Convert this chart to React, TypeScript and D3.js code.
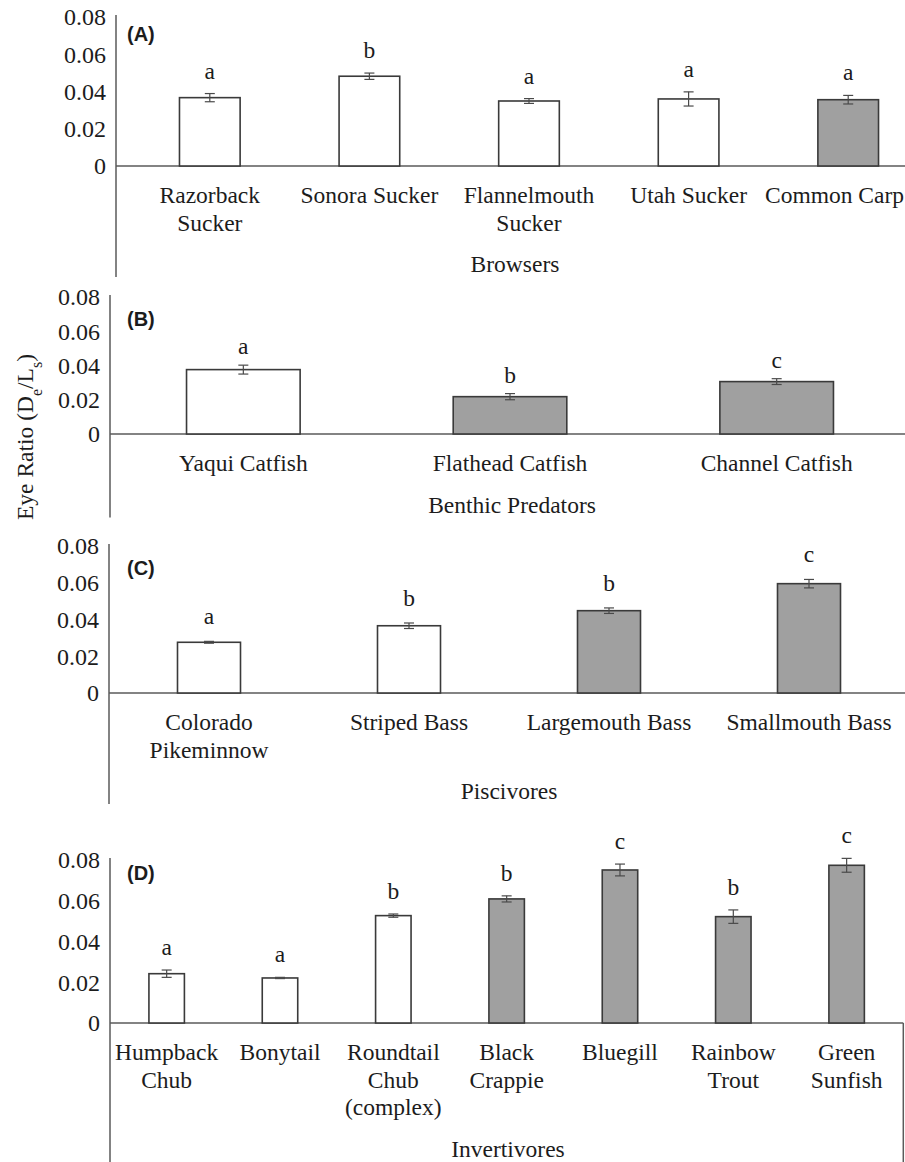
import React from 'react';
import * as d3 from 'd3';

// eye ratio (De/Ls), mean and SE
const browsersSpecies = [['Razorback', 'Sucker'], ['Sonora Sucker'], ['Flannelmouth', 'Sucker'], ['Utah Sucker'], ['Common Carp']];
const browsersMean = [0.0367, 0.0482, 0.0349, 0.036, 0.0356];
const browsersSE = [0.0022, 0.0017, 0.0013, 0.0038, 0.0023];
const browsersLetters = ['a', 'b', 'a', 'a', 'a'];
const browsersNonNative = [false, false, false, false, true];

const benthicSpecies = [['Yaqui Catfish'], ['Flathead Catfish'], ['Channel Catfish']];
const benthicMean = [0.0376, 0.0218, 0.0306];
const benthicSE = [0.0026, 0.0018, 0.0017];
const benthicLetters = ['a', 'b', 'c'];
const benthicNonNative = [false, true, true];

const piscSpecies = [['Colorado', 'Pikeminnow'], ['Striped Bass'], ['Largemouth Bass'], ['Smallmouth Bass']];
const piscMean = [0.0276, 0.0366, 0.0448, 0.0595];
const piscSE = [0.0005, 0.0015, 0.0015, 0.0023];
const piscLetters = ['a', 'b', 'b', 'c'];
const piscNonNative = [false, false, true, true];

const invSpecies = [['Humpback', 'Chub'], ['Bonytail'], ['Roundtail', 'Chub', '(complex)'], ['Black', 'Crappie'], ['Bluegill'], ['Rainbow', 'Trout'], ['Green', 'Sunfish']];
const invMean = [0.0242, 0.0221, 0.0527, 0.0609, 0.0751, 0.0522, 0.0774];
const invSE = [0.0018, 0.0003, 0.0008, 0.0015, 0.0029, 0.0033, 0.0034];
const invLetters = ['a', 'a', 'b', 'b', 'c', 'b', 'c'];
const invNonNative = [false, false, false, true, true, true, true];

const yTicks = [0, 0.02, 0.04, 0.06, 0.08];

const W = 905;
const H = 1162;
const serif = 'Liberation Serif, Tinos, Times New Roman, DejaVu Serif, serif';
const sans = 'Liberation Sans, Arimo, Arial, sans-serif';
const FS = 23.5;
const LH = 27.5;
const ink = '#1c1c1c';
const axisCol = '#5a5a5a';

const panels = [
  { tag: '(A)', group: 'Browsers', species: browsersSpecies, mean: browsersMean, se: browsersSE, letters: browsersLetters, nonNative: browsersNonNative,
    axisX: 116, x0: 130, x1: 928, yTop: 17, yZero: 166, pad: 0.62, gap: 15, tagY: 41, titleX: 515 },
  { tag: '(B)', group: 'Benthic Predators', species: benthicSpecies, mean: benthicMean, se: benthicSE, letters: benthicLetters, nonNative: benthicNonNative,
    axisX: 110, x0: 110, x1: 910, yTop: 297, yZero: 434, pad: 0.574, gap: 11, tagY: 326, titleX: 512 },
  { tag: '(C)', group: 'Piscivores', species: piscSpecies, mean: piscMean, se: piscSE, letters: piscLetters, nonNative: piscNonNative,
    axisX: 109, x0: 109, x1: 909, yTop: 546, yZero: 693, pad: 0.685, gap: 17, tagY: 575, titleX: 509 },
  { tag: '(D)', group: 'Invertivores', species: invSpecies, mean: invMean, se: invSE, letters: invLetters, nonNative: invNonNative,
    axisX: 110, x0: 110, x1: 903.3, yTop: 860, yZero: 1023, pad: 0.687, gap: 15, tagY: 880, titleX: 508, boxed: true },
];

let ctx = null;
function textWidth(s) {
  if (!ctx) ctx = document.createElement('canvas').getContext('2d');
  ctx.font = `${FS}px ${serif}`;
  return ctx.measureText(s).width;
}

function Panel({ p }) {
  const x = d3.scaleBand().domain(d3.range(p.species.length)).range([p.x0, p.x1])
    .paddingInner(p.pad).paddingOuter(p.pad / 2);
  const y = d3.scaleLinear().domain([0, 0.08]).range([p.yZero, p.yTop]);
  const nLines = d3.max(p.species, (s) => s.length);
  const titleY = p.yZero + 44 + nLines * LH;
  const axisBottom = p.boxed ? H : titleY + 12;
  const xEnd = p.boxed ? p.x1 : W;

  return (
    <g>
      <line x1={p.axisX} x2={p.axisX} y1={p.yTop - 2} y2={axisBottom} stroke={axisCol} strokeWidth={1.5} />
      <line x1={p.axisX} x2={xEnd} y1={p.yZero} y2={p.yZero} stroke={axisCol} strokeWidth={1.5} />
      {p.boxed && <line x1={p.x1} x2={p.x1} y1={p.yZero} y2={H} stroke={axisCol} strokeWidth={1.5} />}
      {yTicks.map((t) => (
        <text key={t} x={p.axisX - 10} y={y(t)} dy="0.35em" textAnchor="end" fontFamily={serif} fontSize={24} fill={ink}>
          {t === 0 ? '0' : t.toFixed(2)}
        </text>
      ))}
      <text x={127} y={p.tagY} fontFamily={sans} fontWeight="bold" fontSize={20} fill={ink}>{p.tag}</text>
      {p.mean.map((m, i) => {
        const cx = x(i) + x.bandwidth() / 2;
        const top = y(m + p.se[i]);
        const bot = y(m - p.se[i]);
        return (
          <g key={i}>
            <rect x={x(i)} y={y(m)} width={x.bandwidth()} height={p.yZero - y(m)}
              fill={p.nonNative[i] ? '#a0a0a0' : '#ffffff'} stroke="#3a3a3a" strokeWidth={1.6} />
            <line x1={cx} x2={cx} y1={top} y2={bot} stroke="#4a4a4a" strokeWidth={1.2} />
            <line x1={cx - 5} x2={cx + 5} y1={top} y2={top} stroke="#4a4a4a" strokeWidth={1.2} />
            <line x1={cx - 5} x2={cx + 5} y1={bot} y2={bot} stroke="#4a4a4a" strokeWidth={1.2} />
            <text x={cx} y={top - p.gap} textAnchor="middle" fontFamily={serif} fontSize={FS} fill={ink}>{p.letters[i]}</text>
            <text textAnchor="middle" fontFamily={serif} fontSize={FS} fill={ink}>
              {p.species[i].map((ln, j) => {
                const half = textWidth(ln) / 2;
                const lx = Math.min(cx, W - 1 - half);
                return <tspan key={j} x={lx} y={p.yZero + 37 + j * LH}>{ln}</tspan>;
              })}
            </text>
          </g>
        );
      })}
      <text x={p.titleX} y={titleY + 7} textAnchor="middle" fontFamily={serif} fontSize={FS} fill={ink}>{p.group}</text>
    </g>
  );
}

export default function App() {
  return (
    <svg width={W} height={H} style={{ position: 'absolute', left: 0, top: 0, background: '#fff' }}>
      <rect width={W} height={H} fill="#fff" />
      {panels.map((p) => <Panel key={p.tag} p={p} />)}
      <text transform="translate(33,437) rotate(-90)" textAnchor="middle" fontFamily={serif} fontSize={FS} fill={ink}>
        Eye Ratio (D<tspan baselineShift="sub" fontSize={16}>e</tspan>/L<tspan baselineShift="sub" fontSize={16}>s</tspan>)
      </text>
    </svg>
  );
}
